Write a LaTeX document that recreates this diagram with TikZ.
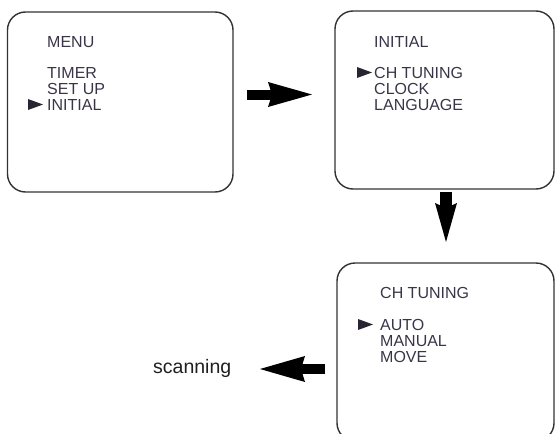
\documentclass[tikz,border=0pt]{standalone}
\usepackage{fontspec}
\setmainfont{Liberation Sans}
\usetikzlibrary{arrows.meta}
\definecolor{ink}{RGB}{58,52,72}
\definecolor{frame}{RGB}{50,50,50}
\begin{document}
\begin{tikzpicture}[x=1pt,y=-1pt,
  screen/.style={draw=frame,line width=1.4pt,rounded corners=18pt,inner sep=0pt},
  menutext/.style={anchor=base west,inner sep=0pt,text=ink,font=\fontsize{16}{16}\selectfont},
  marker/.style={fill=ink!70!black},
  bigarrow/.style={line width=10pt,-{Stealth[length=44pt,width=25pt,inset=4pt,line width=0pt]}},
  downarrow/.style={line width=12pt,-{Stealth[length=39pt,width=22pt,inset=5pt,line width=0pt]}}]
\useasboundingbox (0,0) rectangle (555,434);
\clip (0,0) rectangle (555,434);

% screens
\node[screen,minimum width=225.5pt,minimum height=180pt] (menu) at (120.25,102) {};
\node[screen,minimum width=219pt,minimum height=178pt] (initial) at (444.5,100) {};
\node[screen,minimum width=217pt,minimum height=178pt] (chtuning) at (445.5,352) {};

% screen 1
\node[menutext] (t1) at (47,47) {MENU};
\node[menutext] (t1a) at (47,78) {TIMER};
\node[menutext] (t1b) at (47,94) {SET UP};
\node[menutext] (t1c) at (47,110) {INITIAL};
\fill[marker] (28,99) -- (43,104.5) -- (28,110) -- cycle;

% screen 2
\node[menutext] (t2) at (374,47) {INITIAL};
\node[menutext] (t2a) at (374,78) {CH TUNING};
\node[menutext] (t2b) at (374,94) {CLOCK};
\node[menutext] (t2c) at (374,110) {LANGUAGE};
\fill[marker] (357,67) -- (372,72.5) -- (357,78) -- cycle;

% screen 3
\node[menutext] (t3) at (380,298) {CH TUNING};
\node[menutext] (t3a) at (380,330) {AUTO};
\node[menutext] (t3b) at (380,346) {MANUAL};
\node[menutext] (t3c) at (380,362) {MOVE};
\fill[marker] (358,319) -- (373,324.5) -- (358,330) -- cycle;

% scanning
\node[anchor=base west,inner sep=0pt,text=black!88,font=\fontsize{19.5}{20}\selectfont] (scan) at (153,373) {scanning};

% arrows
\coordinate (ra) at (247,94.5);
\coordinate (rb) at (312,94.5);
\draw[bigarrow] (ra) -- (rb);
\coordinate (da) at (446,192);
\coordinate (db) at (446,242);
\draw[downarrow] (da) -- (db);
\coordinate (la) at (325,369);
\coordinate (lb) at (260,369);
\draw[line width=10pt,-{Stealth[length=45pt,width=26pt,inset=4pt,line width=0pt]}] (la) -- (lb);
\end{tikzpicture}
\end{document}
